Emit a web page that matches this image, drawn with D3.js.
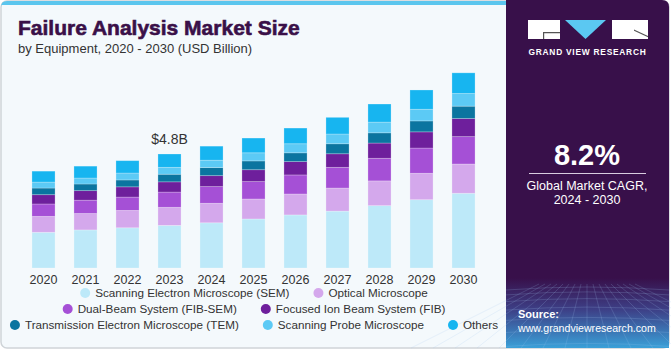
<!DOCTYPE html>
<html>
<head>
<meta charset="utf-8">
<script src="https://cdn.jsdelivr.net/npm/d3@7"></script>
<style>
  body { margin: 0; background: #fff; }
  svg { display: block; font-family: "Liberation Sans", Arial, sans-serif; }
</style>
</head>
<body>
<svg id="chart" width="671" height="350"></svg>
<script>
// values (USD billion)
const years = ["2020", "2021", "2022", "2023", "2024", "2025", "2026", "2027", "2028", "2029", "2030"]
const seriesNames = [
  "Scanning Electron Microscope (SEM)",
  "Optical Microscope",
  "Dual-Beam System (FIB-SEM)",
  "Focused Ion Beam System (FIB)",
  "Transmission Electron Microscope (TEM)",
  "Scanning Probe Microscope",
  "Others"
]
const sem    = [1.50, 1.60, 1.69, 1.79, 1.90, 2.06, 2.23, 2.39, 2.62, 2.87, 3.14]
const optical = [0.67, 0.69, 0.73, 0.76, 0.82, 0.84, 0.88, 0.97, 1.04, 1.11, 1.23]
const dualBeam = [0.52, 0.56, 0.56, 0.64, 0.70, 0.73, 0.80, 0.87, 0.95, 1.06, 1.15]
const fib    = [0.39, 0.40, 0.43, 0.43, 0.46, 0.50, 0.56, 0.57, 0.64, 0.68, 0.76]
const tem    = [0.28, 0.28, 0.29, 0.32, 0.34, 0.37, 0.37, 0.42, 0.43, 0.46, 0.52]
const spm    = [0.25, 0.25, 0.29, 0.29, 0.31, 0.34, 0.38, 0.41, 0.45, 0.49, 0.53]
const others = [0.46, 0.50, 0.52, 0.56, 0.59, 0.62, 0.66, 0.70, 0.76, 0.81, 0.87]
const colors = ["#bde9f9", "#d4a8ec", "#a550d6", "#6e1f9c", "#0b75a0", "#5ccaf5", "#17b5f0"]
const callout = { year: "2023", label: "$4.8B" }

const allSeries = [sem, optical, dualBeam, fib, tem, spm, others]
const rows = years.map((y, i) => {
  const r = { year: y }
  seriesNames.forEach((n, k) => { r[n] = allSeries[k][i] })
  return r
})

const svg = d3.select("#chart")
const W = 671, H = 350

// frame + left panel
svg.append("rect").attr("x", 1).attr("y", 1).attr("width", W - 3).attr("height", H - 3)
  .attr("rx", 6).attr("fill", "#f4f9fc").attr("stroke", "#cfd4d8").attr("stroke-width", 1.5)
svg.append("path").attr("d", "M1,7 Q1,1 7,1 L506,1 L506,5 L1,5 Z").attr("fill", "#5bc6ee")

// right panel
const defs = svg.append("defs")
const grad = defs.append("linearGradient").attr("id", "btm").attr("x1", 0).attr("y1", 0).attr("x2", 0).attr("y2", 1)
grad.append("stop").attr("offset", "0%").attr("stop-color", "#38104a")
grad.append("stop").attr("offset", "45%").attr("stop-color", "#3d3f86")
grad.append("stop").attr("offset", "100%").attr("stop-color", "#3aa0d8")
svg.append("path").attr("d", "M506,0 L662,0 Q669,0 669,7 L669,348 L506,348 Z").attr("fill", "#38104a")
svg.append("rect").attr("x", 506).attr("y", 278).attr("width", 163).attr("height", 70).attr("fill", "url(#btm)")
// faint grid in the bottom of the panel
const grid = svg.append("g").attr("stroke", "#9fc8f0").attr("stroke-opacity", 0.28).attr("stroke-width", 0.7).attr("fill", "none")
for (let k = 0; k < 9; k++) {
  const yy = 290 + k * k * 0.9 + k * 4
  grid.append("path").attr("d", `M506,${yy} Q587,${yy - 6} 669,${yy}`)
}
for (let k = -8; k <= 8; k++) {
  grid.append("line").attr("x1", 587 + k * 6).attr("y1", 284).attr("x2", 587 + k * 22).attr("y2", 348)
}

// logo
const logo = svg.append("g")
logo.append("rect").attr("x", 528).attr("y", 20).attr("width", 32).attr("height", 19).attr("fill", "#fff")
logo.append("path").attr("d", "M543,32 L560,32 L560,33.2 L544.2,33.2 L544.2,39 L543,39 Z").attr("fill", "#555")
logo.append("path").attr("d", "M565,20 L606,20 L585.5,39 Z").attr("fill", "#5bc8f2")
logo.append("rect").attr("x", 612).attr("y", 20).attr("width", 36).attr("height", 19).attr("fill", "#fff")
logo.append("path").attr("d", "M634,29.5 L648,36 L648,37.2 L634,30.7 Z").attr("fill", "#555")
svg.append("text").attr("x", 587.5).attr("y", 54.5).attr("text-anchor", "middle")
  .attr("fill", "#fff").attr("font-size", 8.4).attr("font-weight", "bold").attr("letter-spacing", 0.75)
  .text("GRAND VIEW RESEARCH")

svg.append("text").attr("x", 587).attr("y", 165).attr("text-anchor", "middle").attr("fill", "#fff")
  .attr("font-size", 29).attr("font-weight", "bold").text("8.2%")
svg.append("line").attr("x1", 529).attr("x2", 646).attr("y1", 173.5).attr("y2", 173.5)
  .attr("stroke", "#d9cde0").attr("stroke-width", 1)
svg.append("text").attr("x", 587).attr("y", 190).attr("text-anchor", "middle").attr("fill", "#fff")
  .attr("font-size", 12.5).text("Global Market CAGR,")
svg.append("text").attr("x", 587).attr("y", 204).attr("text-anchor", "middle").attr("fill", "#fff")
  .attr("font-size", 12.5).text("2024 - 2030")
svg.append("text").attr("x", 518).attr("y", 318).attr("fill", "#fff")
  .attr("font-size", 11).attr("font-weight", "bold").text("Source:")
svg.append("text").attr("x", 518).attr("y", 332).attr("fill", "#fff")
  .attr("font-size", 10.6).text("www.grandviewresearch.com")

// titles
svg.append("text").attr("x", 18).attr("y", 35).attr("fill", "#3a1048")
  .attr("stroke", "#3a1048").attr("stroke-width", 0.6)
  .attr("font-size", 21).attr("font-weight", "bold").text("Failure Analysis Market Size")
svg.append("text").attr("x", 18).attr("y", 53).attr("fill", "#333")
  .attr("font-size", 13).text("by Equipment, 2020 - 2030 (USD Billion)")

// scales
const x = d3.scaleBand().domain(years).range([22.5, 484.5]).paddingInner(0.45).paddingOuter(0.225)
const y = d3.scaleLinear().domain([0, 10]).range([268, 30])

const stack = d3.stack().keys(seriesNames)(rows)

svg.append("g").selectAll("g").data(stack).join("g")
  .attr("fill", (d, i) => colors[i])
  .selectAll("rect").data(d => d).join("rect")
  .attr("x", d => x(d.data.year))
  .attr("width", x.bandwidth())
  .attr("y", d => y(d[1]))
  .attr("height", d => y(d[0]) - y(d[1]))
  .attr("stroke", "#ffffff").attr("stroke-opacity", 0.3).attr("stroke-width", 0.8)

// year axis
const xAxis = svg.append("g").attr("transform", "translate(0,270)")
  .call(d3.axisBottom(x).tickSize(0).tickPadding(5))
xAxis.select(".domain").remove()
xAxis.selectAll("text").attr("font-size", 12.5).attr("fill", "#333")
  .attr("font-family", "Liberation Sans, Arial, sans-serif")

// callout
const ci = years.indexOf(callout.year)
const ctop = d3.sum(allSeries, s => s[ci])
svg.append("text").attr("x", x(callout.year) + x.bandwidth() / 2).attr("y", y(ctop) - 10)
  .attr("text-anchor", "middle").attr("fill", "#333").attr("font-size", 14).text(callout.label)

// legend, centred rows
const legendRows = [[0, 1], [2, 3], [4, 5, 6]]
const legendY = [297, 313, 329]
const gap = 24, cx = 254
legendRows.forEach((idx, r) => {
  const g = svg.append("g")
  let off = 0
  idx.forEach(k => {
    const item = g.append("g").attr("transform", `translate(${off},0)`)
    item.append("circle").attr("cx", 5).attr("cy", legendY[r] - 4).attr("r", 5).attr("fill", colors[k])
    const t = item.append("text").attr("x", 15).attr("y", legendY[r]).attr("font-size", 11.7)
      .attr("fill", "#333").text(seriesNames[k])
    off += 15 + t.node().getComputedTextLength() + gap
  })
  const total = off - gap
  g.attr("transform", `translate(${cx - total / 2},0)`)
})
</script>
</body>
</html>
